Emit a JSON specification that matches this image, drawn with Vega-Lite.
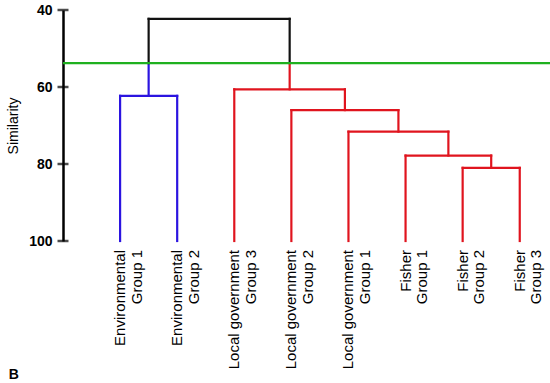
{
  "$schema": "https://vega.github.io/schema/vega-lite/v6.json",
  "width": 487,
  "height": 231,
  "autosize": {"type": "none"},
  "padding": {"left": 63, "top": 10, "right": 0, "bottom": 142},
  "background": "white",
  "config": {"view": {"stroke": null}, "font": "Liberation Sans"},
  "title": {"text": "B", "orient": "bottom", "anchor": "start", "frame": "bounds", "fontSize": 14, "fontWeight": "bold", "color": "black", "offset": -1, "dx": 2},
  "layer": [
    {
      "data": {"values": [
        {"x": 1, "x2": 1, "y": 62.3, "y2": 100, "c": "blue"},
        {"x": 2, "x2": 2, "y": 62.3, "y2": 100, "c": "blue"},
        {"x": 1, "x2": 2, "y": 62.3, "y2": 62.3, "c": "blue"},
        {"x": 1.5, "x2": 1.5, "y": 53.8, "y2": 62.3, "c": "blue"},
        {"x": 1.5, "x2": 1.5, "y": 42.3, "y2": 53.8, "c": "black"},
        {"x": 3.97, "x2": 3.97, "y": 42.3, "y2": 53.8, "c": "black"},
        {"x": 1.5, "x2": 3.97, "y": 42.3, "y2": 42.3, "c": "black"},
        {"x": 3.97, "x2": 3.97, "y": 53.8, "y2": 60.6, "c": "red"},
        {"x": 3, "x2": 4.9375, "y": 60.6, "y2": 60.6, "c": "red"},
        {"x": 3, "x2": 3, "y": 60.6, "y2": 100, "c": "red"},
        {"x": 4.9375, "x2": 4.9375, "y": 60.6, "y2": 66, "c": "red"},
        {"x": 4, "x2": 5.875, "y": 66, "y2": 66, "c": "red"},
        {"x": 4, "x2": 4, "y": 66, "y2": 100, "c": "red"},
        {"x": 5.875, "x2": 5.875, "y": 66, "y2": 71.6, "c": "red"},
        {"x": 5, "x2": 6.75, "y": 71.6, "y2": 71.6, "c": "red"},
        {"x": 5, "x2": 5, "y": 71.6, "y2": 100, "c": "red"},
        {"x": 6.75, "x2": 6.75, "y": 71.6, "y2": 77.8, "c": "red"},
        {"x": 6, "x2": 7.5, "y": 77.8, "y2": 77.8, "c": "red"},
        {"x": 6, "x2": 6, "y": 77.8, "y2": 100, "c": "red"},
        {"x": 7.5, "x2": 7.5, "y": 77.8, "y2": 81, "c": "red"},
        {"x": 7, "x2": 8, "y": 81, "y2": 81, "c": "red"},
        {"x": 7, "x2": 7, "y": 81, "y2": 100, "c": "red"},
        {"x": 8, "x2": 8, "y": 81, "y2": 100, "c": "red"}
      ]},
      "mark": {"type": "rule", "strokeWidth": 2.2, "strokeCap": "square"},
      "encoding": {
        "x": {"field": "x", "type": "quantitative", "scale": {"domain": [0, 8.53], "nice": false, "zero": false}, "axis": null},
        "x2": {"field": "x2"},
        "y": {"field": "y", "type": "quantitative", "scale": {"domain": [40, 100], "reverse": true, "nice": false, "zero": false},
          "axis": {"title": "Similarity", "values": [40, 60, 80, 100], "ticks": false, "grid": false, "domainColor": "black", "domainWidth": 2.5,
            "labelFontSize": 14, "labelFontWeight": "bold", "labelColor": "black", "labelPadding": 11,
            "titleFontSize": 14, "titleFontWeight": "normal", "titleColor": "black", "titlePadding": 8}},
        "y2": {"field": "y2"},
        "color": {"field": "c", "type": "nominal", "legend": null, "scale": {"domain": ["black", "blue", "red"], "range": ["#111111", "#2b14e0", "#e0141e"]}}
      }
    },
    {
      "data": {"values": [{"cut": 53.8}]},
      "mark": {"type": "rule", "color": "#1fb01f", "strokeWidth": 2.2},
      "encoding": {"y": {"field": "cut", "type": "quantitative"}}
    },
    {
      "data": {"values": [{"t": 40}, {"t": 60}, {"t": 80}, {"t": 100}]},
      "mark": {"type": "tick", "orient": "horizontal", "size": 11, "thickness": 2.5, "color": "black"},
      "encoding": {"x": {"datum": 0, "type": "quantitative"}, "y": {"field": "t", "type": "quantitative"}}
    },
    {
      "data": {"values": [
        {"pos": 1, "sim": 100, "label": "Environmental\nGroup 1"},
        {"pos": 2, "sim": 100, "label": "Environmental\nGroup 2"},
        {"pos": 3, "sim": 100, "label": "Local government\nGroup 3"},
        {"pos": 4, "sim": 100, "label": "Local government\nGroup 2"},
        {"pos": 5, "sim": 100, "label": "Local government\nGroup 1"},
        {"pos": 6, "sim": 100, "label": "Fisher\nGroup 1"},
        {"pos": 7, "sim": 100, "label": "Fisher\nGroup 2"},
        {"pos": 8, "sim": 100, "label": "Fisher\nGroup 3"}
      ]},
      "mark": {"type": "text", "angle": 270, "align": "right", "baseline": "middle", "dx": -9, "fontSize": 15, "lineHeight": 16.5, "color": "black", "lineBreak": "\n"},
      "encoding": {
        "x": {"field": "pos", "type": "quantitative"},
        "y": {"field": "sim", "type": "quantitative"},
        "text": {"field": "label"}
      }
    }
  ]
}
